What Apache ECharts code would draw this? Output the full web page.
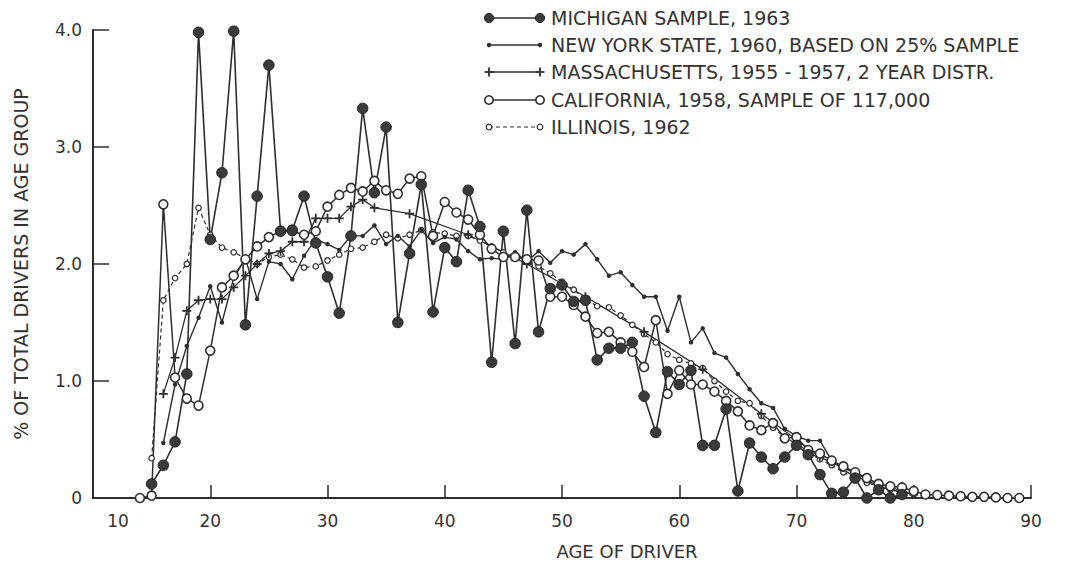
<!DOCTYPE html>
<html>
<head>
<meta charset="utf-8">
<script src="https://cdn.jsdelivr.net/npm/echarts@6/dist/echarts.min.js"></script>
<style>html,body{margin:0;padding:0;background:#fff}#c{width:1071px;height:565px}</style>
</head>
<body>
<div id="c"></div>
<script>
// ---- DATA ----
const xTicks = [10, 20, 30, 40, 50, 60, 70, 80, 90];
const yTicks = [0, 1, 2, 3, 4];

const michiganStart = 15;
const michiganValues = [0.12,0.28,0.48,1.06,3.98,2.21,2.78,3.99,1.48,2.58,
  3.70,2.28,2.29,2.58,2.18,1.89,1.58,2.24,3.33,2.61,
  3.17,1.50,2.09,2.68,1.59,2.14,2.02,2.63,2.32,1.16,
  2.28,1.32,2.46,1.42,1.79,1.82,1.68,1.69,1.18,1.28,
  1.28,1.33,0.87,0.56,1.08,0.97,1.09,0.45,0.45,0.76,
  0.06,0.47,0.35,0.25,0.35,0.45,0.37,0.20,0.04,0.05,
  0.17,0.0,0.07,0.0,0.03];

const newYorkStart = 16;
const newYorkValues = [0.47,0.97,1.30,1.54,1.81,1.50,1.88,2.05,1.70,2.02,
  2.00,1.87,2.07,2.21,2.17,2.12,2.24,2.24,2.33,2.17,
  2.24,2.15,2.29,2.18,2.23,2.21,2.11,2.04,2.05,2.04,
  2.10,2.02,2.11,2.01,2.11,2.08,2.17,2.04,1.90,1.93,
  1.82,1.72,1.72,1.43,1.72,1.33,1.45,1.24,1.20,1.06,
  0.93,0.81,0.77,0.59,0.53,0.49,0.49,0.32,0.24,0.18,
  0.15,0.10,0.07,0.05,0.03];

const massAges = [16,17,18,19,20,21,22,23,24,25,26,27,28,29,30,31,32,33,34,37,42,47,52,57,62,67,72,77,80];
const massValues = [0.89,1.20,1.60,1.69,1.70,1.70,1.80,1.90,2.00,2.09,2.11,2.19,2.19,2.39,2.39,2.39,2.49,2.55,2.48,2.43,2.25,2.00,1.72,1.42,1.10,0.72,0.35,0.12,0.03];

const californiaStart = 14;
const californiaValues = [0.0,0.02,2.51,1.03,0.85,0.79,1.26,1.80,1.90,2.04,
  2.15,2.23,2.28,2.28,2.25,2.28,2.49,2.59,2.65,2.62,
  2.71,2.63,2.60,2.73,2.75,2.24,2.53,2.44,2.38,2.25,
  2.13,2.06,2.06,2.04,2.03,1.72,1.72,1.65,1.55,1.41,
  1.42,1.33,1.25,1.12,1.52,0.89,1.09,0.97,0.97,0.91,
  0.83,0.74,0.62,0.58,0.64,0.51,0.52,0.41,0.38,0.32,
  0.27,0.22,0.17,0.12,0.10,0.09,0.06,0.03,0.025,0.02,
  0.015,0.01,0.01,0.005,0.0,0.0];

const illinoisStart = 15;
const illinoisValues = [0.34,1.69,1.88,2.00,2.48,2.25,2.14,2.10,2.05,2.00,
  2.06,2.08,2.04,1.97,1.98,2.03,2.08,2.13,2.14,2.19,
  2.25,2.22,2.25,2.29,2.27,2.26,2.24,2.24,2.20,2.15,
  2.10,2.05,2.02,1.98,1.92,1.85,1.78,1.70,1.64,1.63,
  1.56,1.48,1.40,1.33,1.23,1.18,1.15,1.11,1.00,0.91,
  0.83,0.81,0.70,0.60,0.52,0.46,0.40,0.33,0.28,0.22,
  0.17,0.13,0.10,0.07,0.05,0.03];

const seriesNames = [
  'MICHIGAN SAMPLE, 1963',
  'NEW YORK STATE, 1960, BASED ON 25% SAMPLE',
  'MASSACHUSETTS, 1955 - 1957, 2 YEAR DISTR.',
  'CALIFORNIA, 1958, SAMPLE OF 117,000',
  'ILLINOIS, 1962'
];
const xAxisTitle = 'AGE OF DRIVER';
const yAxisTitle = '% OF TOTAL DRIVERS IN AGE GROUP';

// ---- BUILD ----
const pairsFromStart = (start, vals) => vals.map((v, i) => [start + i, v]);
const pairs = (ages, vals) => vals.map((v, i) => [ages[i], v]);

const INK = '#2e2e2e';
const FONT = 'DejaVu Sans';
const plusPath = 'path://M4,0H6V4H10V6H6V10H4V6H0V4H4Z';

const chart = echarts.init(document.getElementById('c'), null, {renderer: 'svg'});

// legend drawn with graphic elements
const legendX1 = 489, legendX2 = 540, legendTextX = 551;
const legendRows = [18, 45, 72, 100, 127];
const g = [];
legendRows.forEach((y, i) => {
  const lineStyle = {stroke: INK, lineWidth: 1.5};
  if (i === 4) { lineStyle.lineDash = [4, 3]; lineStyle.lineWidth = 1.2; }
  g.push({type: 'line', shape: {x1: legendX1, y1: y, x2: legendX2, y2: y}, style: lineStyle, silent: true});
  [legendX1, legendX2].forEach(x => {
    if (i === 0) g.push({type: 'circle', shape: {cx: x, cy: y, r: 4.6}, style: {fill: '#3a3a3a', stroke: '#222', lineWidth: 1}});
    if (i === 1) g.push({type: 'circle', shape: {cx: x, cy: y, r: 2.2}, style: {fill: INK}});
    if (i === 2) {
      g.push({type: 'rect', shape: {x: x - 4.5, y: y - 0.9, width: 9, height: 1.8}, style: {fill: INK}});
      g.push({type: 'rect', shape: {x: x - 0.9, y: y - 4.5, width: 1.8, height: 9}, style: {fill: INK}});
    }
    if (i === 3) g.push({type: 'circle', shape: {cx: x, cy: y, r: 4.2}, style: {fill: '#fff', stroke: INK, lineWidth: 1.6}});
    if (i === 4) g.push({type: 'circle', shape: {cx: x, cy: y, r: 2.8}, style: {fill: '#fff', stroke: INK, lineWidth: 1.2}});
  });
  g.push({type: 'text', style: {text: seriesNames[i], x: legendTextX, y: y, fill: '#333',
    font: '19px "' + FONT + '"', verticalAlign: 'middle', align: 'left'}});
});

const option = {
  animation: false,
  backgroundColor: '#fff',
  grid: {left: 93, right: 40, top: 30, bottom: 66},
  xAxis: {
    type: 'value', min: xTicks[0], max: xTicks[xTicks.length - 1], interval: 10,
    name: xAxisTitle, nameLocation: 'middle', nameGap: 44,
    nameTextStyle: {fontFamily: FONT, fontSize: 18, color: '#333', padding: [0, 0, 0, 130]},
    axisLine: {show: true, lineStyle: {color: INK, width: 2}},
    axisTick: {show: true, inside: true, length: 13, lineStyle: {color: INK, width: 1.5}},
    axisLabel: {
      fontFamily: FONT, fontSize: 17, color: '#333', margin: 14,
      formatter: v => v === 10 ? '{s|10}' : String(v),
      rich: {s: {fontFamily: FONT, fontSize: 17, color: '#333', padding: [0, 0, 0, 50]}}
    },
    splitLine: {show: false}
  },
  yAxis: {
    type: 'value', min: yTicks[0], max: yTicks[yTicks.length - 1], interval: 1,
    name: yAxisTitle, nameLocation: 'middle', nameGap: 63, nameRotate: 90,
    nameTextStyle: {fontFamily: FONT, fontSize: 19, color: '#333'},
    axisLine: {show: true, lineStyle: {color: INK, width: 2}},
    axisTick: {show: true, inside: true, length: 16, lineStyle: {color: INK, width: 1.5}},
    axisLabel: {fontFamily: FONT, fontSize: 17, color: '#333', margin: 11,
      formatter: v => v === 0 ? '0' : v.toFixed(1)},
    splitLine: {show: false}
  },
  graphic: g,
  series: [
    {name: seriesNames[4], type: 'line', data: pairsFromStart(illinoisStart, illinoisValues),
      symbol: 'circle', symbolSize: 5.5, clip: false,
      itemStyle: {color: '#fff', borderColor: INK, borderWidth: 1.2},
      lineStyle: {color: INK, width: 1.2, type: [4, 3]}},
    {name: seriesNames[2], type: 'line', data: pairs(massAges, massValues),
      symbol: plusPath, symbolSize: 9, clip: false,
      itemStyle: {color: INK}, lineStyle: {color: INK, width: 1.3}},
    {name: seriesNames[1], type: 'line', data: pairsFromStart(newYorkStart, newYorkValues),
      symbol: 'circle', symbolSize: 4.5, clip: false,
      itemStyle: {color: INK}, lineStyle: {color: INK, width: 1.4}},
    {name: seriesNames[3], type: 'line', data: pairsFromStart(californiaStart, californiaValues),
      symbol: 'circle', symbolSize: 9, clip: false,
      itemStyle: {color: '#fff', borderColor: INK, borderWidth: 1.6},
      lineStyle: {color: INK, width: 1.5}},
    {name: seriesNames[0], type: 'line', data: pairsFromStart(michiganStart, michiganValues),
      symbol: 'circle', symbolSize: 10.5, clip: false,
      itemStyle: {color: '#3a3a3a', borderColor: '#222', borderWidth: 1},
      lineStyle: {color: INK, width: 1.6}}
  ]
};
chart.setOption(option);
</script>
</body>
</html>
